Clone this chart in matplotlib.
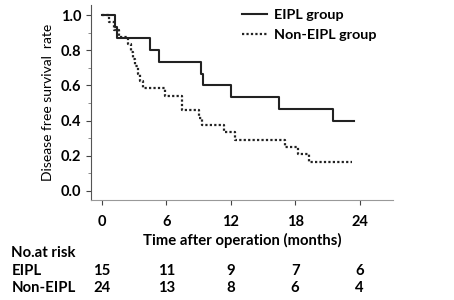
import matplotlib
matplotlib.use("Agg")
import matplotlib.pyplot as plt
from matplotlib.ticker import MultipleLocator
import matplotlib.transforms as mtransforms

plt.rcParams['font.family'] = ['Lato', 'DejaVu Sans']

# Kaplan-Meier steps (month, survival after event)
eipl_t = [0, 1.2, 1.4, 4.5, 5.3, 9.2, 9.4, 12.06, 16.5, 21.5, 23.5]
eipl_s = [1.0, 0.933, 0.867, 0.8, 0.733, 0.667, 0.6, 0.533, 0.467, 0.4, 0.4]

non_t = [0, 0.7, 1.1, 1.6, 2.4, 2.7, 2.9, 3.1, 3.4, 3.6, 3.85, 5.9, 7.5,
         9.1, 9.35, 11.35, 12.4, 17.1, 18.3, 19.3, 23.3]
non_s = [1.0, 0.958, 0.917, 0.875, 0.833, 0.792, 0.75, 0.708, 0.667, 0.625,
         0.583, 0.542, 0.458, 0.417, 0.375, 0.333, 0.292, 0.25, 0.208, 0.167, 0.167]

months = [0, 6, 12, 18, 24]
risk_eipl = [15, 11, 9, 7, 6]
risk_non = [24, 13, 8, 6, 4]

fs = 10.7

fig = plt.figure(figsize=(4.54, 3.0), dpi=100)
ax = fig.add_axes([0.2004, 0.3333, 0.665, 0.65])

ax.step(eipl_t, eipl_s, where='post', color='#222222', lw=1.5, label='EIPL group')
ax.step(non_t, non_s, where='post', color='#222222', lw=1.6,
        linestyle=(0, (1, 1)), label='Non-EIPL group')

ax.set_xlim(-1.0, 27.1)
ax.set_ylim(-0.052, 1.057)
ax.spines['top'].set_visible(False)
ax.spines['right'].set_visible(False)
ax.spines['left'].set_color('#555555')
ax.spines['bottom'].set_color('#999999')

ax.set_xticks(months)
ax.set_yticks([0.0, 0.2, 0.4, 0.6, 0.8, 1.0])
ax.yaxis.set_minor_locator(MultipleLocator(0.1))
ax.tick_params(axis='both', which='major', length=3.5, width=0.8, colors='#444444',
               labelcolor='black', labelsize=10.5)
ax.tick_params(axis='y', which='minor', length=2, width=0.6, colors='#777777')
ax.tick_params(axis='x', pad=7)
ax.set_xticklabels([str(m) for m in months], fontweight='bold')
ax.set_yticklabels(['0.0', '0.2', '0.4', '0.6', '0.8', '1.0'], fontweight='bold')

ax.set_xlabel('Time after operation (months)', fontsize=fs, fontweight='bold', labelpad=3)
ax.set_ylabel('Disease free survival  rate', fontsize=10, labelpad=5)

fig.legend(loc='upper left', bbox_to_anchor=(242 / 454, 1 - 9 / 300), frameon=False,
           borderpad=0, borderaxespad=0, handlelength=1.7, handletextpad=0.55,
           labelspacing=0.55, prop={'weight': 'bold', 'size': 10.4})

# number at risk table
trans = mtransforms.blended_transform_factory(ax.transData, fig.transFigure)
fig.text(0.025, 1 - 253 / 300, 'No.at risk', fontsize=fs, fontweight='bold', va='center')
fig.text(0.025, 1 - 271 / 300, 'EIPL', fontsize=fs, fontweight='bold', va='center')
fig.text(0.025, 1 - 288 / 300, 'Non-EIPL', fontsize=fs, fontweight='bold', va='center')
for m, a, b in zip(months, risk_eipl, risk_non):
    ax.text(m, 1 - 271 / 300, str(a), transform=trans, ha='center', va='center',
            fontsize=fs, fontweight='bold')
    ax.text(m, 1 - 288 / 300, str(b), transform=trans, ha='center', va='center',
            fontsize=fs, fontweight='bold')

fig.savefig('out.png', dpi=100)
